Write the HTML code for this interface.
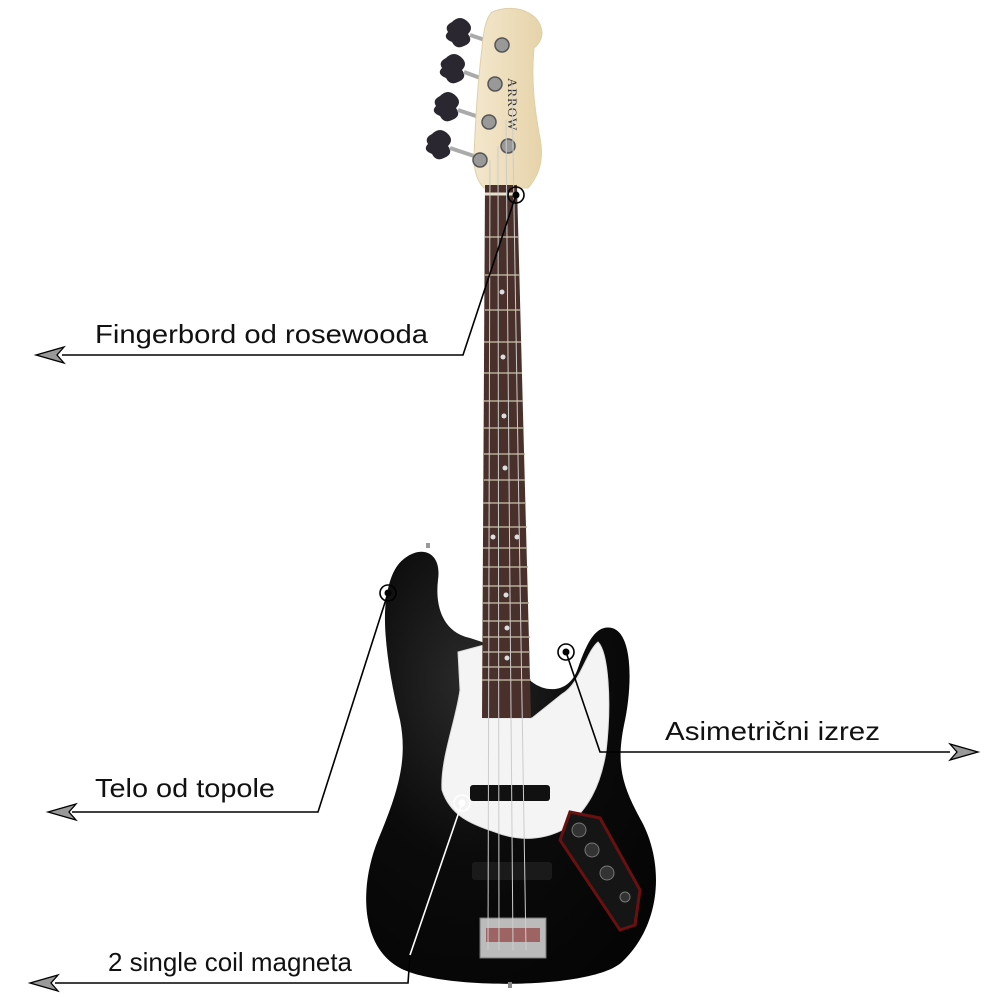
<!DOCTYPE html>
<html><head><meta charset="utf-8"><style>
html,body{margin:0;padding:0;background:#fff;}
svg{display:block}
text{font-family:"Liberation Sans Narrow","Liberation Sans",sans-serif;font-size:26px;fill:#111;}
</style></head><body>
<svg width="1000" height="1000" viewBox="0 0 1000 1000" xmlns="http://www.w3.org/2000/svg">
<defs>
<linearGradient id="hs" x1="0" x2="1"><stop offset="0" stop-color="#f3e7cc"/><stop offset="1" stop-color="#e6d3aa"/></linearGradient>
<radialGradient id="bd" cx="0.35" cy="0.3" r="0.8"><stop offset="0" stop-color="#2a2a2a"/><stop offset="0.5" stop-color="#0b0b0b"/><stop offset="1" stop-color="#050505"/></radialGradient>
</defs>
<g fill="#2b2730">
<path d="M452 22 q8 -8 16 0 q6 6 0 12 q6 8 -4 12 q-8 4 -12 -4 q-10 -4 -4 -10 q-4 -6 4 -10z"/>
<path d="M446 58 q8 -8 16 0 q6 6 0 12 q6 8 -4 12 q-8 4 -12 -4 q-10 -4 -4 -10 q-4 -6 4 -10z"/>
<path d="M440 96 q8 -8 16 0 q6 6 0 12 q6 8 -4 12 q-8 4 -12 -4 q-10 -4 -4 -10 q-4 -6 4 -10z"/>
<path d="M432 134 q8 -8 16 0 q6 6 0 12 q6 8 -4 12 q-8 4 -12 -4 q-10 -4 -4 -10 q-4 -6 4 -10z"/>
</g>
<g stroke="#aaa" stroke-width="4"><line x1="470" y1="35" x2="500" y2="45"/><line x1="464" y1="72" x2="494" y2="83"/><line x1="458" y1="110" x2="488" y2="120"/><line x1="450" y1="148" x2="480" y2="158"/></g>
<path d="M492 12 q15 -6 30 -2 q18 6 20 22 q0 10 -8 16 q-4 40 6 90 q6 30 -12 50 l-44 0 q-10 -10 -10 -30 q2 -60 8 -110 q2 -28 10 -36z" fill="url(#hs)" stroke="#e0cfa8"/>
<text x="0" y="0" transform="translate(508,78) rotate(90)" style="font-family:'Liberation Serif',serif;font-size:13px;fill:#333;letter-spacing:1px">ARROW</text>
<g fill="#999" stroke="#555" stroke-width="1.5">
<circle cx="502" cy="45" r="7"/><circle cx="495" cy="84" r="7"/><circle cx="489" cy="122" r="7"/><circle cx="508" cy="146" r="7"/><circle cx="480" cy="160" r="7"/>
</g>
<!-- body -->
<path d="M405 558 C422 545 442 552 438 580 C435 605 442 632 470 638 L482 642 L532 682 C548 694 570 692 578 668 C586 645 595 624 612 628 C634 634 632 690 624 725 C616 765 622 786 642 822 C664 864 662 924 622 962 C592 990 440 990 400 968 C362 948 358 890 378 840 C398 792 408 760 400 720 C390 680 382 630 386 600 C389 580 394 566 405 558Z" fill="url(#bd)"/>
<path d="M428 548 l0 -5" stroke="#999" stroke-width="4"/>
<!-- pickguard -->
<path d="M458 652 L484 645 L484 718 L532 718 L562 694 C580 684 586 652 598 642 C608 652 612 700 606 752 C600 788 588 808 566 828 C545 840 520 842 495 832 C470 824 450 815 442 790 C440 760 456 720 460 690Z" fill="#f4f4f4" stroke="#ddd"/>
<!-- control plate -->
<path d="M570 812 L600 818 L640 890 L635 925 L620 930 L560 840Z" fill="#151515" stroke="#6a1010" stroke-width="3"/>
<g fill="#333" stroke="#777"><circle cx="579" cy="830" r="7"/><circle cx="592" cy="850" r="7"/><circle cx="607" cy="873" r="7"/><circle cx="625" cy="897" r="5"/></g>
<!-- neck -->
<path d="M485 185 L517 185 L531 718 L482 718Z" fill="#4a302b"/>
<line x1="485" y1="194" x2="517" y2="194" stroke="#e8e0cc" stroke-width="3"/>
<g stroke="#b8aa98" stroke-width="1.5">
<line x1="485" y1="237" x2="518" y2="237"/><line x1="485" y1="275" x2="519" y2="275"/><line x1="485" y1="310" x2="520" y2="310"/><line x1="484" y1="342" x2="521" y2="342"/><line x1="484" y1="373" x2="522" y2="373"/><line x1="484" y1="401" x2="523" y2="401"/><line x1="484" y1="428" x2="524" y2="428"/><line x1="484" y1="454" x2="525" y2="454"/><line x1="484" y1="480" x2="525" y2="480"/><line x1="483" y1="503" x2="526" y2="503"/><line x1="483" y1="527" x2="527" y2="527"/><line x1="483" y1="548" x2="527" y2="548"/><line x1="483" y1="567" x2="528" y2="567"/><line x1="483" y1="586" x2="528" y2="586"/><line x1="483" y1="603" x2="529" y2="603"/><line x1="483" y1="621" x2="529" y2="621"/><line x1="483" y1="637" x2="530" y2="637"/><line x1="483" y1="652" x2="530" y2="652"/><line x1="482" y1="667" x2="530" y2="667"/><line x1="482" y1="680" x2="531" y2="680"/>
</g>
<g fill="#ddd"><circle cx="502" cy="292" r="2.5"/><circle cx="503" cy="357" r="2.5"/><circle cx="504" cy="416" r="2.5"/><circle cx="505" cy="468" r="2.5"/><circle cx="493" cy="537" r="2.5"/><circle cx="517" cy="537" r="2.5"/><circle cx="506" cy="595" r="2.5"/><circle cx="507" cy="628" r="2.5"/><circle cx="507" cy="658" r="2.5"/></g>
<rect x="470" y="785" width="80" height="16" rx="3" fill="#111"/>
<rect x="472" y="862" width="80" height="18" rx="3" fill="#1a1a1a"/>
<rect x="480" y="918" width="66" height="40" fill="#bbb" stroke="#777"/>
<rect x="486" y="928" width="54" height="14" fill="#8a2a2a" opacity="0.6"/>
<g stroke="#ccc" stroke-width="1"><line x1="490" y1="160" x2="488" y2="950"/><line x1="498" y1="146" x2="499" y2="950"/><line x1="506" y1="120" x2="513" y2="950"/><line x1="512" y1="84" x2="526" y2="950"/></g>
<path d="M508 988 l4 0 l0 -6 l-4 0z" fill="#888"/>
<!-- annotations -->
<g fill="none" stroke="#000" stroke-width="1.6">
<circle cx="516" cy="195" r="8"/><polyline points="516,195 463,355 62,355"/>
<circle cx="388" cy="593" r="8"/><polyline points="388,593 318,812 72,812"/>
<circle cx="566" cy="652" r="8"/><polyline points="566,652 600,752 950,752"/>
<polyline points="410,955 408,983 55,983"/>
</g>
<g fill="#000"><circle cx="516" cy="195" r="3.5"/><circle cx="388" cy="593" r="3.5"/><circle cx="566" cy="652" r="3.5"/></g>
<g fill="none" stroke="#fff" stroke-width="1.6"><circle cx="462" cy="803" r="8"/><line x1="462" y1="803" x2="410" y2="955"/></g>
<circle cx="462" cy="803" r="3.5" fill="#fff"/>
<g fill="#999" stroke="#000" stroke-width="1.3">
<path d="M36 355 L64 347 L57 355 L64 363Z"/>
<path d="M48 812 L76 804 L69 812 L76 820Z"/>
<path d="M30 983 L58 975 L51 983 L58 991Z"/>
<path d="M978 752 L950 744 L957 752 L950 760Z"/>
</g>
<text x="95" y="343" textLength="333" lengthAdjust="spacingAndGlyphs">Fingerbord od rosewooda</text>
<text x="95" y="797" textLength="180" lengthAdjust="spacingAndGlyphs">Telo od topole</text>
<text x="665" y="740" textLength="215" lengthAdjust="spacingAndGlyphs">Asimetrični izrez</text>
<text x="108" y="971" textLength="244" lengthAdjust="spacingAndGlyphs">2 single coil magneta</text>
</svg>
</body></html>
